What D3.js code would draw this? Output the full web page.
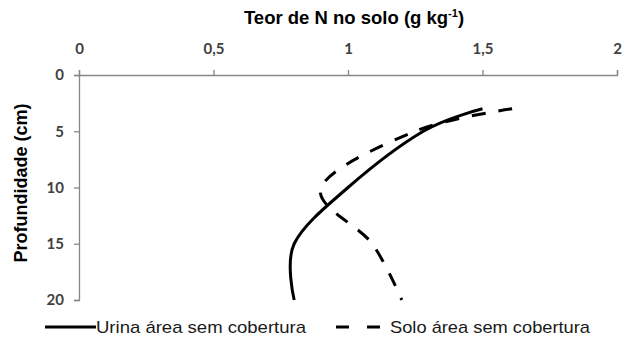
<!DOCTYPE html>
<html>
<head>
<meta charset="utf-8">
<script src="https://cdn.jsdelivr.net/npm/d3@7"></script>
<style>
  html, body { margin: 0; padding: 0; background: #fff; }
  svg { display: block; }
</style>
</head>
<body>
<svg id="chart" width="632" height="354"></svg>
<script>
// ---- data ----
const depths = [3, 5, 10, 15, 20];               // Profundidade (cm)
const urinaValues = [1.50, 1.28, 1.00, 0.80, 0.80]; // Urina área sem cobertura
const soloValues  = [1.61, 1.25, 0.90, 1.09, 1.20]; // Solo área sem cobertura
const xTicks = [0, 0.5, 1, 1.5, 2];
const yTicks = [0, 5, 10, 15, 20];
const seriesNames = ["Urina área sem cobertura", "Solo área sem cobertura"];

// ---- layout ----
const svg = d3.select("#chart");
const x = d3.scaleLinear().domain([0, 2]).range([79, 617]);
const y = d3.scaleLinear().domain([0, 20]).range([75, 300]);

const axisColor = "#868686";
const labelFont = "Lato, 'Open Sans', sans-serif";
const textFont = "'Liberation Sans', Arial, sans-serif";

// top x axis
const gx = svg.append("g").attr("transform", `translate(0,${y(0)})`)
  .call(d3.axisTop(x).tickValues(xTicks).tickSizeInner(5).tickSizeOuter(5).tickPadding(16)
    .tickFormat(d => String(d).replace(".", ",")));
gx.select(".domain").attr("stroke", axisColor).attr("stroke-width", 1.3);
gx.selectAll(".tick line").attr("stroke", axisColor).attr("stroke-width", 1.3);
gx.selectAll(".tick text").attr("fill", "#404040").attr("font-family", labelFont)
  .attr("font-weight", "bold").attr("font-size", 15);

// left y axis
const gy = svg.append("g").attr("transform", `translate(${x(0)},0)`)
  .call(d3.axisLeft(y).tickValues(yTicks).tickSizeInner(5).tickSizeOuter(5).tickPadding(10));
gy.select(".domain").attr("stroke", axisColor).attr("stroke-width", 1.3);
gy.selectAll(".tick line").attr("stroke", axisColor).attr("stroke-width", 1.3);
gy.selectAll(".tick text").attr("fill", "#404040").attr("font-family", labelFont)
  .attr("font-weight", "bold").attr("font-size", 15);

// titles
const title = svg.append("text")
  .attr("x", 354).attr("y", 24)
  .attr("text-anchor", "middle")
  .attr("font-family", textFont)
  .attr("font-weight", "bold").attr("font-size", 18.5).attr("fill", "#000");
title.append("tspan").text("Teor de N no solo (g kg");
title.append("tspan").attr("font-size", 11).attr("dy", -7).text("-1");
title.append("tspan").attr("dy", 7).text(")");

svg.append("text")
  .attr("transform", `translate(27,183) rotate(-90)`)
  .attr("text-anchor", "middle")
  .attr("font-family", textFont)
  .attr("font-weight", "bold").attr("font-size", 18).attr("fill", "#000")
  .text("Profundidade (cm)");

// lines
const line = d3.line()
  .x(d => x(d[0]))
  .y(d => y(d[1]))
  .curve(d3.curveCardinal.tension(0));

svg.append("path")
  .datum(depths.map((d, i) => [urinaValues[i], d]))
  .attr("d", line)
  .attr("fill", "none").attr("stroke", "#000").attr("stroke-width", 3);

svg.append("path")
  .datum(depths.map((d, i) => [soloValues[i], d]))
  .attr("d", line)
  .attr("fill", "none").attr("stroke", "#000").attr("stroke-width", 3)
  .attr("stroke-dasharray", "14,13");

// legend
const leg = svg.append("g");
leg.append("line").attr("x1", 45).attr("x2", 96).attr("y1", 327).attr("y2", 327)
  .attr("stroke", "#000").attr("stroke-width", 3);
leg.append("text").attr("x", 96).attr("y", 333)
  .attr("font-family", textFont).attr("font-size", 17)
  .attr("textLength", 210).attr("lengthAdjust", "spacingAndGlyphs")
  .attr("fill", "#1a1a1a").text(seriesNames[0]);
leg.append("line").attr("x1", 336).attr("x2", 381).attr("y1", 327).attr("y2", 327)
  .attr("stroke", "#000").attr("stroke-width", 3).attr("stroke-dasharray", "13,18");
leg.append("text").attr("x", 390).attr("y", 333)
  .attr("font-family", textFont).attr("font-size", 17)
  .attr("textLength", 200).attr("lengthAdjust", "spacingAndGlyphs")
  .attr("fill", "#1a1a1a").text(seriesNames[1]);
</script>
</body>
</html>
